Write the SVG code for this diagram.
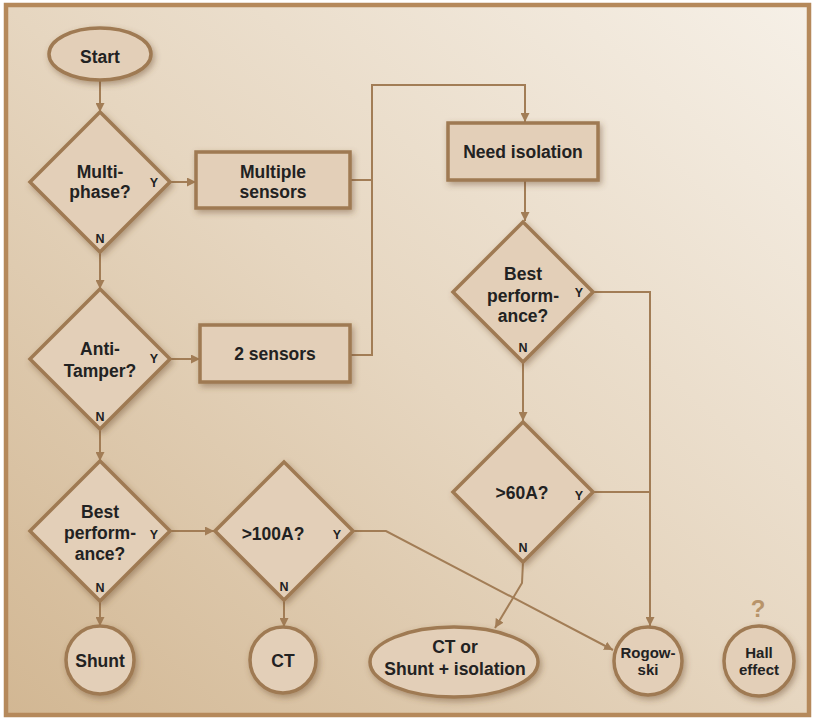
<svg xmlns="http://www.w3.org/2000/svg" width="814" height="720" viewBox="0 0 814 720">
<defs>
<linearGradient id="bg" x1="1" y1="0" x2="0" y2="1">
<stop offset="0" stop-color="#f6f0e7"/>
<stop offset="0.5" stop-color="#e6d6c0"/>
<stop offset="1" stop-color="#d2b793"/>
</linearGradient>
<filter id="sh" x="-20%" y="-20%" width="140%" height="140%">
<feDropShadow dx="2" dy="3" stdDeviation="3" flood-color="#6b4a2a" flood-opacity="0.45"/>
</filter>
<marker id="ah" markerUnits="userSpaceOnUse" markerWidth="9" markerHeight="9" refX="9" refY="4.5" orient="auto">
<path d="M0,0 L9,4.5 L0,9 z" fill="#a27d56"/>
</marker>
</defs>
<style>
.node{fill:#e3cfb8;stroke:#9f7a52;stroke-width:3.5;filter:url(#sh)}
.t{font-family:"Liberation Sans",Arial,sans-serif;font-weight:bold;font-size:17.5px;fill:#222;text-anchor:middle}
.s{font-size:15px}
.yn{font-family:"Liberation Sans",Arial,sans-serif;font-weight:bold;font-size:12.5px;fill:#222;text-anchor:middle}
.c{fill:none;stroke:#a27d56;stroke-width:2}
</style>
<rect x="0" y="0" width="814" height="720" fill="#ffffff"/>
<rect x="6" y="5" width="803" height="710" fill="url(#bg)" stroke="#b5895b" stroke-width="4.5"/>

<g id="connectors">
<line class="c" x1="100" y1="80" x2="100" y2="112" marker-end="url(#ah)"/>
<line class="c" x1="170" y1="182" x2="196" y2="182" marker-end="url(#ah)"/>
<line class="c" x1="100" y1="252" x2="100" y2="289" marker-end="url(#ah)"/>
<line class="c" x1="170" y1="359" x2="200" y2="359" marker-end="url(#ah)"/>
<line class="c" x1="100" y1="429" x2="100" y2="461" marker-end="url(#ah)"/>
<line class="c" x1="170" y1="531" x2="214" y2="531" marker-end="url(#ah)"/>
<line class="c" x1="100" y1="601" x2="100" y2="626" marker-end="url(#ah)"/>
<line class="c" x1="284" y1="601" x2="284" y2="627" marker-end="url(#ah)"/>
<polyline class="c" points="350,180 372,180"/>
<polyline class="c" points="350,355 372,355 372,85 525,85 525,122" marker-end="url(#ah)"/>
<line class="c" x1="525" y1="180" x2="525" y2="221" marker-end="url(#ah)"/>
<line class="c" x1="523" y1="362" x2="523" y2="421" marker-end="url(#ah)"/>
<polyline class="c" points="594,292 650,292 650,626" marker-end="url(#ah)"/>
<line class="c" x1="594" y1="492" x2="650" y2="492"/>
<polyline class="c" points="523,562 522,583 495,628" marker-end="url(#ah)"/>
<polyline class="c" points="354,531 386,531 613,650" marker-end="url(#ah)"/>
</g>

<g id="start"><ellipse class="node" cx="100" cy="54" rx="51" ry="26"/><text class="t" x="100" y="63">Start</text></g>

<g id="multiphase"><polygon class="node" points="100,112 170,182 100,252 30,182"/>
<text class="t" x="100" y="178">Multi-</text><text class="t" x="100" y="198">phase?</text>
<text class="yn" x="154" y="187">Y</text><text class="yn" x="100" y="243">N</text></g>

<g id="multiple-sensors"><rect class="node" x="196" y="152" width="154" height="56"/>
<text class="t" x="273" y="178">Multiple</text><text class="t" x="273" y="198">sensors</text></g>

<g id="antitamper"><polygon class="node" points="100,289 170,359 100,429 30,359"/>
<text class="t" x="100" y="355">Anti-</text><text class="t" x="100" y="377">Tamper?</text>
<text class="yn" x="154" y="363">Y</text><text class="yn" x="100" y="421">N</text></g>

<g id="two-sensors"><rect class="node" x="200" y="325" width="150" height="57"/>
<text class="t" x="275" y="360">2 sensors</text></g>

<g id="best-left"><polygon class="node" points="100,461 170,531 100,601 30,531"/>
<text class="t" x="100" y="518">Best</text><text class="t" x="100" y="539">perform-</text><text class="t" x="100" y="560">ance?</text>
<text class="yn" x="154" y="539">Y</text><text class="yn" x="100" y="592">N</text></g>

<g id="gt100"><polygon class="node" points="284,462 353,531 284,600 215,531"/>
<text class="t" x="273" y="540">&gt;100A?</text>
<text class="yn" x="337" y="539">Y</text><text class="yn" x="284" y="591">N</text></g>

<g id="shunt"><circle class="node" cx="100" cy="660" r="34"/><text class="t" x="100" y="667">Shunt</text></g>

<g id="ct"><circle class="node" cx="283" cy="660" r="33"/><text class="t" x="283" y="667">CT</text></g>

<g id="need-isolation"><rect class="node" x="448" y="123" width="150" height="57"/>
<text class="t" x="523" y="158">Need isolation</text></g>

<g id="best-right"><polygon class="node" points="523,222 593,292 523,362 453,292"/>
<text class="t" x="523" y="280">Best</text><text class="t" x="523" y="302">perform-</text><text class="t" x="523" y="322">ance?</text>
<text class="yn" x="579" y="297">Y</text><text class="yn" x="523" y="352">N</text></g>

<g id="gt60"><polygon class="node" points="523,422 593,492 523,562 453,492"/>
<text class="t" x="522" y="499">&gt;60A?</text>
<text class="yn" x="579" y="500">Y</text><text class="yn" x="523" y="552">N</text></g>

<g id="ct-or-shunt"><ellipse class="node" cx="454" cy="662" rx="84" ry="35"/>
<text class="t" x="455" y="653">CT or</text><text class="t" x="455" y="675">Shunt + isolation</text></g>

<g id="rogowski"><circle class="node" cx="648" cy="661" r="34"/>
<text class="t s" x="648" y="658">Rogow-</text><text class="t s" x="648" y="675">ski</text></g>

<g id="hall"><circle class="node" cx="759" cy="661" r="35"/>
<text class="t s" x="759" y="658">Hall</text><text class="t s" x="759" y="675">effect</text>
<text class="t" x="758" y="617" style="font-size:24px;fill:#b8946a">?</text></g>
</svg>
